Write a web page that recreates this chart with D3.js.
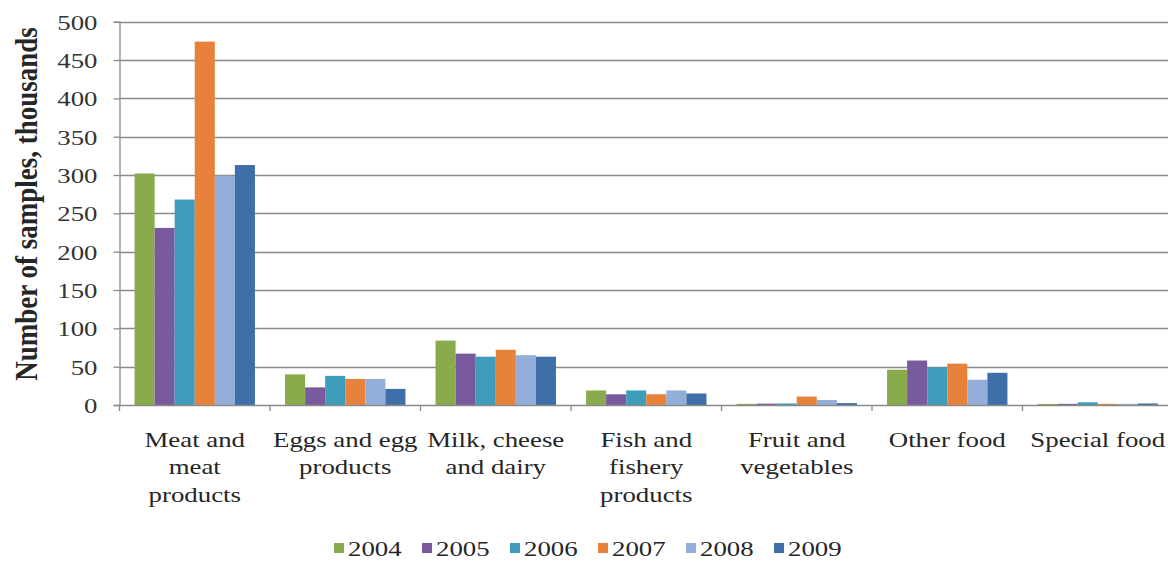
<!DOCTYPE html>
<html>
<head>
<meta charset="utf-8">
<script src="https://cdn.jsdelivr.net/npm/d3@7"></script>
<style>
  html, body { margin: 0; padding: 0; background: #fff; }
  svg { display: block; }
  text { font-family: "Liberation Serif", "Times New Roman", serif; fill: #262626; }
</style>
</head>
<body>
<svg id="chart" width="1168" height="574"></svg>
<script>
// Food categories and the wrapped lines used for their axis labels
const categories = ["Meat and meat products", "Eggs and egg products", "Milk, cheese and dairy",
  "Fish and fishery products", "Fruit and vegetables", "Other food", "Special food"];
const categoryLines = [
  ["Meat and", "meat", "products"],
  ["Eggs and egg", "products"],
  ["Milk, cheese", "and dairy"],
  ["Fish and", "fishery", "products"],
  ["Fruit and", "vegetables"],
  ["Other food"],
  ["Special food"]
];
const years = ["2004", "2005", "2006", "2007", "2008", "2009"];

// Number of samples (thousands) per year, one value per category
const v2004 = [302, 40, 84, 19, 1.5, 46, 1.3];
const v2005 = [231, 23, 67, 14, 1.8, 58, 1.5];
const v2006 = [268, 38, 63, 19, 2, 49, 3.5];
const v2007 = [474, 34, 72, 14, 11, 54, 1.5];
const v2008 = [299, 34, 65, 19, 6.5, 33, 1.5];
const v2009 = [313, 21, 63, 15, 2.5, 42, 2];
const seriesValues = [v2004, v2005, v2006, v2007, v2008, v2009];

const yTicks = [0, 50, 100, 150, 200, 250, 300, 350, 400, 450, 500];
const colors = ["#8AAB4B", "#7A5A9E", "#3E9DBA", "#E8823A", "#93AED8", "#3F6FA8"];

const svg = d3.select("#chart");
const plot = { left: 119.5, right: 1173, top: 21.7, bottom: 405 };
const sx = 1.22; // horizontal stretch of text glyphs

const x0 = d3.scaleBand().domain(categories).range([plot.left, plot.right]).paddingInner(0).paddingOuter(0);
const x1 = d3.scaleBand().domain(years).range([0, x0.bandwidth()]).paddingInner(0).paddingOuter(0.75);
const y = d3.scaleLinear().domain([0, 500]).range([plot.bottom, plot.top]);

// Horizontal gridlines
svg.append("g").selectAll("line").data(yTicks.filter(t => t > 0)).join("line")
  .attr("x1", plot.left).attr("x2", plot.right)
  .attr("y1", d => Math.round(y(d)) + 0.5).attr("y2", d => Math.round(y(d)) + 0.5)
  .attr("stroke", "#8a8a8a").attr("stroke-width", 1.3);

// Bars
const groups = svg.append("g").selectAll("g").data(categories).join("g")
  .attr("transform", d => `translate(${x0(d)},0)`);
groups.selectAll("rect")
  .data((c, ci) => years.map((yr, si) => ({ yr, si, v: seriesValues[si][ci] })))
  .join("rect")
  .attr("x", d => x1(d.yr))
  .attr("width", x1.bandwidth())
  .attr("y", d => y(d.v))
  .attr("height", d => y(0) - y(d.v))
  .attr("fill", d => colors[d.si]);

// Y axis
const yAxis = svg.append("g").attr("transform", `translate(${plot.left},0)`)
  .call(d3.axisLeft(y).tickValues(yTicks).tickSize(6).tickPadding(0).tickFormat(d3.format("d")));
yAxis.select(".domain").attr("stroke", "#8a8a8a").attr("stroke-width", 1.3);
yAxis.selectAll(".tick line").attr("stroke", "#8a8a8a").attr("stroke-width", 1.3);
yAxis.selectAll(".tick text").remove();
yAxis.selectAll(".tick").append("text")
  .attr("transform", `translate(-22,0) scale(${sx},1)`)
  .attr("text-anchor", "end").attr("dy", "0.34em")
  .style("font-size", "22px").style("fill", "#333")
  .text(d => d);

// X axis (category boundaries)
const xAxis = svg.append("g").attr("transform", `translate(0,${plot.bottom})`);
xAxis.append("line").attr("x1", plot.left).attr("x2", plot.right).attr("y1", 0.5).attr("y2", 0.5)
  .attr("stroke", "#8a8a8a").attr("stroke-width", 1.3);
const bounds = categories.map(c => x0(c)).concat([plot.right]);
xAxis.selectAll("line.tk").data(bounds).join("line").attr("class", "tk")
  .attr("x1", d => d).attr("x2", d => d).attr("y1", 0).attr("y2", 6)
  .attr("stroke", "#8a8a8a").attr("stroke-width", 1.3);

// Category labels
const labels = svg.append("g").selectAll("g").data(categories).join("g")
  .attr("transform", d => `translate(${x0(d) + x0.bandwidth() / 2},447) scale(${sx},1)`);
labels.selectAll("text").data((c, i) => categoryLines[i]).join("text")
  .attr("y", (d, i) => i * 27.5)
  .attr("text-anchor", "middle")
  .style("font-size", "22px")
  .text(d => d);

// Y axis title
svg.append("text")
  .attr("transform", `translate(37,204) rotate(-90) scale(1,1.15)`)
  .attr("text-anchor", "middle")
  .style("font-size", "27px").style("font-weight", "bold")
  .text("Number of samples, thousands");

// Legend
const legend = svg.append("g").selectAll("g").data(years).join("g")
  .attr("transform", (d, i) => `translate(${334 + i * 88},548)`);
legend.append("rect").attr("x", 0).attr("y", -5).attr("width", 10).attr("height", 10)
  .attr("fill", (d, i) => colors[i]);
legend.append("text")
  .attr("transform", `translate(14,0) scale(${sx},1)`)
  .attr("dy", "0.36em")
  .style("font-size", "22px")
  .text(d => d);
</script>
</body>
</html>
